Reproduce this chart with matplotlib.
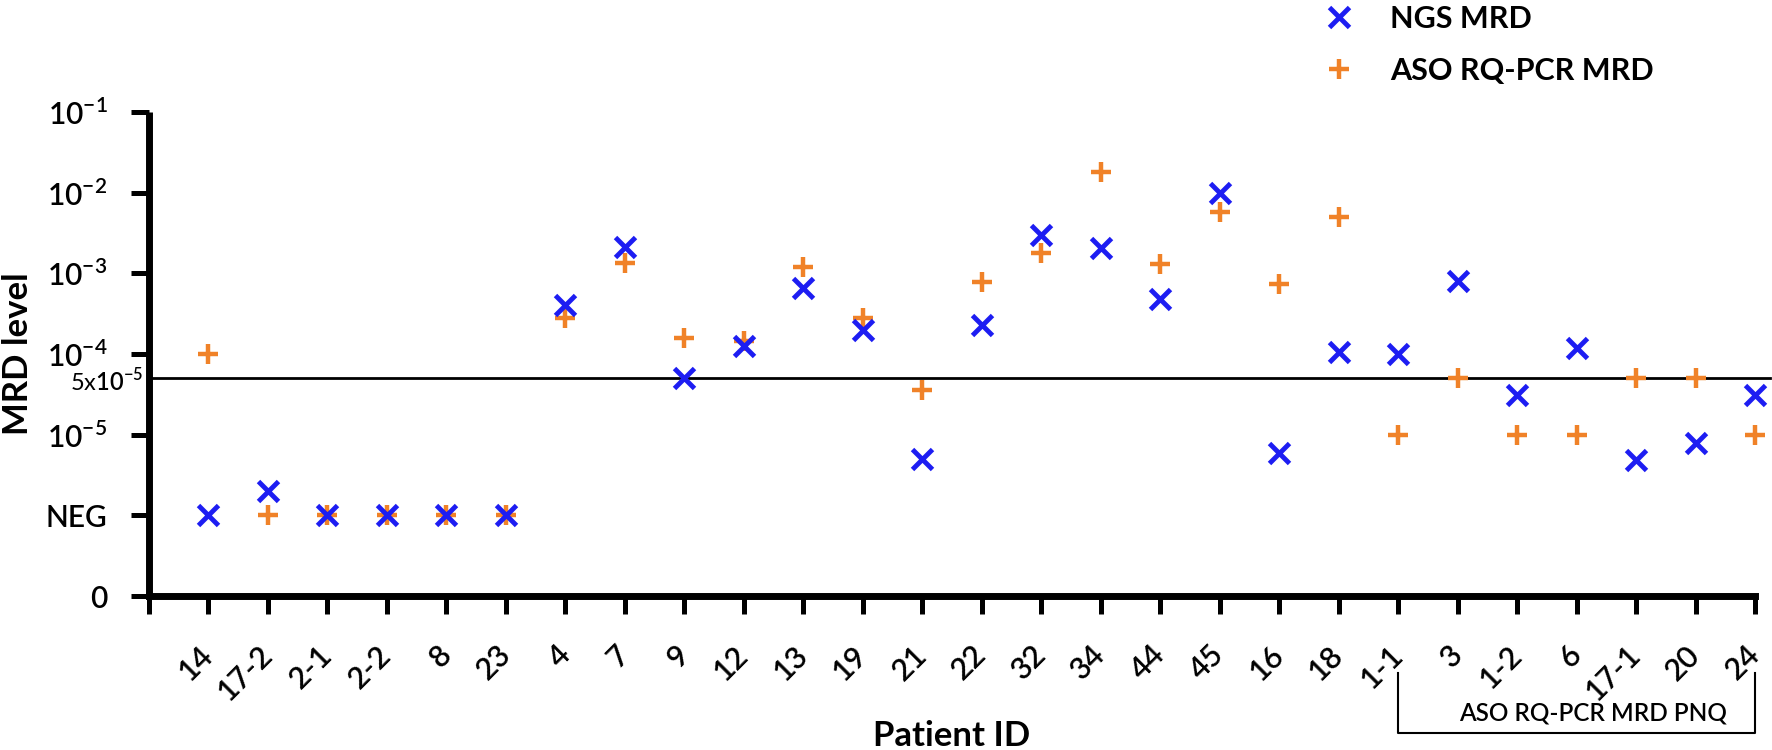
import numpy as np
import matplotlib as mpl
mpl.use('Agg')
import matplotlib.pyplot as plt
from matplotlib.lines import Line2D

plt.rcParams['font.family'] = ['Lato', 'DejaVu Sans']
plt.rcParams['mathtext.fontset'] = 'custom'
plt.rcParams['mathtext.rm'] = 'Lato:semibold'
plt.rcParams['mathtext.bf'] = 'Lato:bold'

# None = negative (NEG)
patients = ['14', '17-2', '2-1', '2-2', '8', '23', '4', '7', '9', '12', '13', '19',
            '21', '22', '32', '34', '44', '45', '16', '18', '1-1', '3', '1-2', '6',
            '17-1', '20', '24']
ngs_mrd = [None, 2.0e-6, None, None, None, None, 4.1e-4, 2.1e-3, 5.1e-5, 1.26e-4,
           6.6e-4, 2.0e-4, 5.0e-6, 2.3e-4, 3.0e-3, 2.05e-3, 4.8e-4, 1.0e-2, 5.9e-6,
           1.07e-4, 1.0e-4, 8.0e-4, 3.1e-5, 1.2e-4, 4.9e-6, 7.9e-6, 3.1e-5]
aso_mrd = [1.0e-4, None, None, None, None, None, 2.8e-4, 1.35e-3, 1.6e-4, 1.45e-4,
           1.2e-3, 2.8e-4, 3.6e-5, 7.8e-4, 1.8e-3, 1.8e-2, 1.3e-3, 5.8e-3, 7.3e-4,
           5.0e-3, 1.0e-5, 5.0e-5, 1.0e-5, 1.0e-5, 5.0e-5, 5.0e-5, 1.0e-5]
pnq_group = ['1-1', '24']
threshold = 5e-5

ytick_labels = ['0', 'NEG', r'$10^{-5}$', r'$10^{-4}$', r'$10^{-3}$', r'$10^{-2}$', r'$10^{-1}$']


def to_pos(v):
    # one decade per unit, 1e-5 sits at 2, NEG at 1, zero at 0
    if v is None:
        return 1.0
    return np.log10(v) + 7


fig = plt.figure(figsize=(17.72, 7.5), dpi=100)
ax = fig.add_axes([149 / 1772, 154 / 750, (1755 - 149) / 1772, (596 - 112) / 750])

xs = np.arange(1, len(patients) + 1)
ax.plot(xs, [to_pos(v) for v in aso_mrd], '+', color='#f08228', ms=14, mew=3.2,
        linestyle='none', clip_on=False, zorder=3)
ax.plot(xs, [to_pos(v) for v in ngs_mrd], 'x', color='#1d1df2', ms=15, mew=3.5,
        linestyle='none', clip_on=False, zorder=4)

ax.axhline(to_pos(threshold), xmin=0, xmax=1.0095, color='black', lw=2, clip_on=False)

ax.set_xlim(0, len(patients))
ax.set_ylim(0, 6)
for s in ['top', 'right']:
    ax.spines[s].set_visible(False)
for s in ['left', 'bottom']:
    ax.spines[s].set_linewidth(5)
ax.spines['left'].set_capstyle('butt')

ax.set_xticks(np.arange(0, len(patients) + 1))
ax.set_xticklabels([''] + patients, fontsize=22, fontweight='semibold', rotation=45,
                   ha='right', va='center', rotation_mode='anchor')
ax.set_yticks(np.arange(0, 7))
ax.set_yticklabels(ytick_labels, fontsize=21.5, fontweight='semibold')
ax.tick_params(axis='x', length=13, width=3.6, pad=26)
ax.tick_params(axis='y', length=13, width=3.6, pad=17)

ax.set_ylabel('MRD level', fontsize=25, fontweight='bold', labelpad=8)
fig.text(952 / 1772, 4 / 750, 'Patient ID', fontsize=25, fontweight='bold',
         ha='center', va='baseline')
fig.text(143 / 1772, (750 - 392) / 750, r'5x$10^{-5}$', fontsize=17,
         ha='right', va='baseline')

# bracket for PNQ patients
i0 = patients.index(pnq_group[0]) + 1
i1 = patients.index(pnq_group[1]) + 1
trans = ax.get_xaxis_transform()
yb_top = 1 - (673 - 112) / (596 - 112)
yb_bot = 1 - (733 - 112) / (596 - 112)
ax.plot([i0, i0, i1, i1], [yb_top, yb_bot, yb_bot, yb_top], color='black', lw=1.5,
        transform=trans, clip_on=False)
ax.text((i0 + i1) / 2 + 0.28, yb_bot + 0.017, 'ASO RQ-PCR MRD PNQ', fontsize=17.5,
        fontweight='semibold', ha='center', va='bottom', transform=trans)

handles = [Line2D([], [], marker='x', color='#1d1df2', ms=15, mew=3.5, linestyle='none'),
           Line2D([], [], marker='+', color='#f08228', ms=14, mew=3.2, linestyle='none')]
fig.legend(handles, ['NGS MRD', 'ASO RQ-PCR MRD'], loc='upper left',
           bbox_to_anchor=(1324 / 1772, 0.994), frameon=False, prop={'size': 22, 'weight': 'bold'},
           handlelength=1, handletextpad=1.15, labelspacing=0.8, borderpad=0, borderaxespad=0)

fig.savefig('out.png', dpi=100)
